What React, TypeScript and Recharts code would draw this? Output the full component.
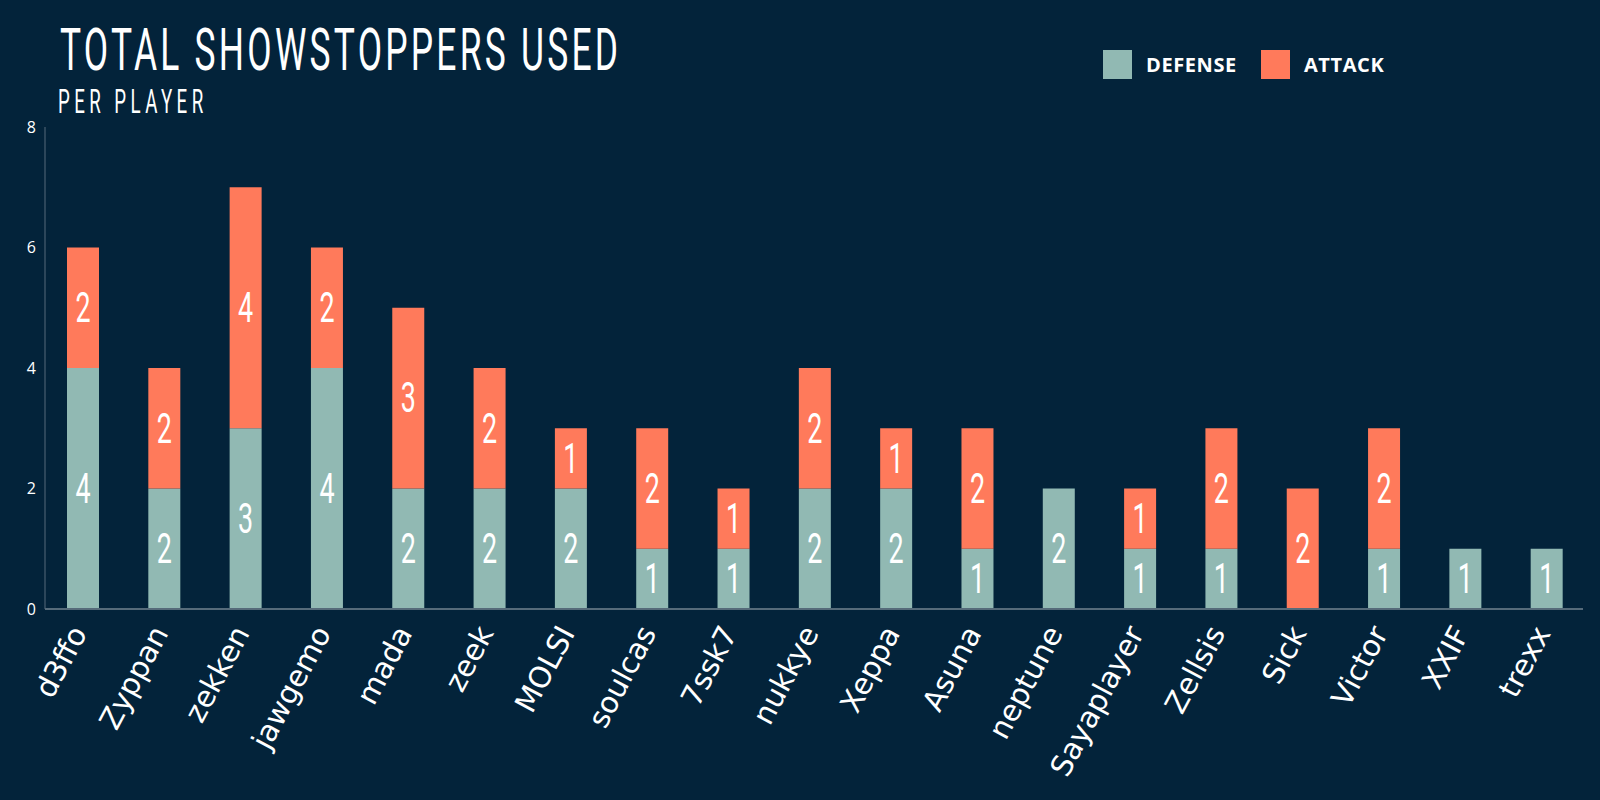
import React from "react";
import { BarChart, Bar, XAxis, YAxis, Legend, LabelList } from "recharts";

const BG = "#03233A";
const DEF_COLOR = "#91B9B3";
const ATT_COLOR = "#FF7A5B";
const AXIS_COLOR = "#566B7A";

const players = [
  "d3ffo", "Zyppan", "zekken", "jawgemo", "mada", "zeek", "MOLSI", "soulcas", "7ssk7", "nukkye",
  "Xeppa", "Asuna", "neptune", "Sayaplayer", "Zellsis", "Sick", "Victor", "XXIF", "trexx",
];
const defense = [4, 2, 3, 4, 2, 2, 2, 1, 1, 2, 2, 1, 2, 1, 1, 0, 1, 1, 1];
const attack = [2, 2, 4, 2, 3, 2, 1, 2, 1, 2, 1, 2, 0, 1, 2, 2, 2, 0, 0];
const yTicks = [0, 2, 4, 6, 8];

const data = players.map((name, i) => ({ name, defense: defense[i], attack: attack[i] }));

function SegmentLabel(props: any) {
  const { x, y, width, height, value } = props;
  if (!value) return null;
  const cx = x + width / 2;
  const cy = y + height / 2;
  return (
    <text
      transform={`translate(${cx},${cy}) scale(0.64,1)`}
      x={0}
      y={0}
      textAnchor="middle"
      dominantBaseline="central"
      fill="#FFFFFF"
      fontFamily="Roboto"
      fontSize={42}
    >
      {value}
    </text>
  );
}

function PlayerTick(props: any) {
  const { x, y, payload } = props;
  return (
    <g transform={`translate(${x + 5},${y + 16})`}>
      <text
        transform="rotate(-62)"
        textAnchor="end"
        fill="#FFFFFF"
        fontFamily="DejaVu Sans"
        fontSize={29.5}
      >
        {payload.value}
      </text>
    </g>
  );
}

function LegendBox() {
  const item = (color: string, label: string, gap: number) => (
    <div style={{ display: "flex", alignItems: "center", marginRight: gap }}>
      <div style={{ width: 29, height: 29, background: color, marginRight: 14 }} />
      <span
        style={{
          color: "#FFFFFF",
          fontFamily: "Open Sans",
          fontWeight: 700,
          fontSize: 20,
          letterSpacing: 0.6,
          lineHeight: "29px",
        }}
      >
        {label}
      </span>
    </div>
  );
  return (
    <div style={{ display: "flex", alignItems: "center", height: 29 }}>
      {item(DEF_COLOR, "DEFENSE", 24)}
      {item(ATT_COLOR, "ATTACK", 0)}
    </div>
  );
}

export default function App() {
  return (
    <div style={{ position: "absolute", left: 0, top: 0, width: 1600, height: 800, background: BG }}>
      <svg width={1600} height={130} style={{ position: "absolute", left: 0, top: 0 }}>
        <text
          transform="translate(60,70) scale(0.6,1)"
          fill="#FFFFFF"
          fontFamily="Roboto"
          fontSize={59}
          textLength={930}
          lengthAdjust="spacing"
        >
          TOTAL SHOWSTOPPERS USED
        </text>
        <text
          transform="translate(58,113) scale(0.55,1)"
          fill="#FFFFFF"
          fontFamily="Roboto"
          fontSize={34}
          textLength={264}
          lengthAdjust="spacing"
        >
          PER PLAYER
        </text>
      </svg>
      <div style={{ position: "absolute", left: 0, top: 0 }}>
        <BarChart
          width={1600}
          height={800}
          data={data}
          margin={{ top: 98, right: 17, bottom: 0, left: 0 }}
          barSize={32}
        >
          <XAxis
            dataKey="name"
            interval={0}
            height={191}
            padding={{ left: -3, right: -4 }}
            axisLine={{ stroke: AXIS_COLOR, strokeWidth: 2 }}
            tickLine={false}
            tick={<PlayerTick />}
          />
          <YAxis
            domain={[0, 8]}
            ticks={yTicks}
            width={45}
            axisLine={{ stroke: AXIS_COLOR, strokeWidth: 1 }}
            tickLine={false}
            tickMargin={3}
            tick={{ fill: "#FFFFFF", fontSize: 16, fontFamily: "Open Sans" }}
          />
          <Legend
            verticalAlign="top"
            content={<LegendBox />}
            wrapperStyle={{ top: 50, left: 1103, width: "auto", height: 29 }}
          />
          <Bar dataKey="defense" name="DEFENSE" stackId="a" fill={DEF_COLOR} isAnimationActive={false}>
            <LabelList dataKey="defense" content={<SegmentLabel />} />
          </Bar>
          <Bar dataKey="attack" name="ATTACK" stackId="a" fill={ATT_COLOR} isAnimationActive={false}>
            <LabelList dataKey="attack" content={<SegmentLabel />} />
          </Bar>
        </BarChart>
      </div>
    </div>
  );
}
